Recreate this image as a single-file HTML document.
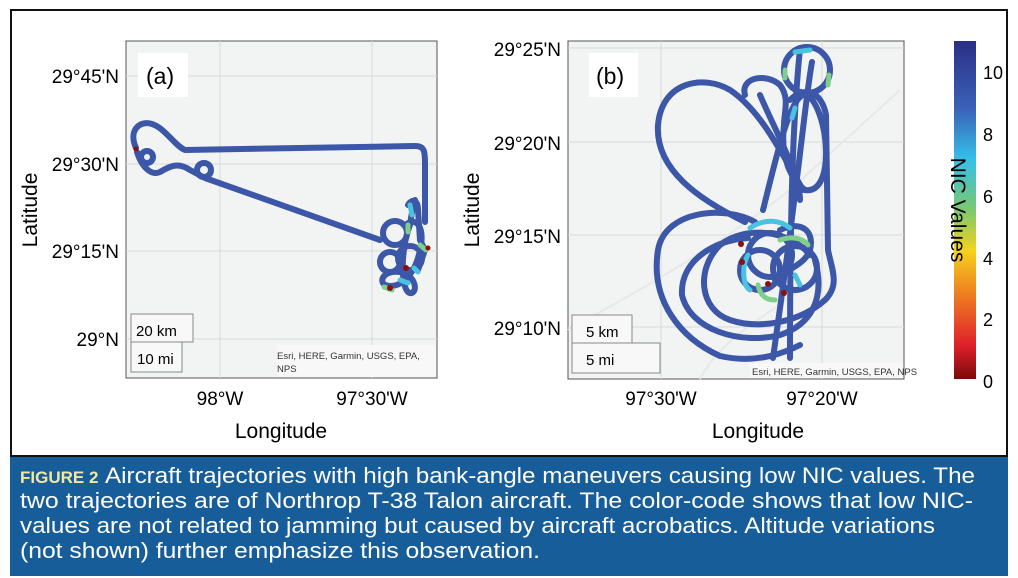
<!DOCTYPE html>
<html><head><meta charset="utf-8"><style>
body{margin:0;width:1018px;height:578px;background:#fff;overflow:hidden;font-family:"Liberation Sans",sans-serif}
</style></head><body>
<svg width="1018" height="578" viewBox="0 0 1018 578" style="position:absolute;left:0;top:0">
<defs>
<linearGradient id="cb" x1="0" y1="1" x2="0" y2="0">
<stop offset="0" stop-color="#7a0a0a"/><stop offset="0.1" stop-color="#e0202a"/><stop offset="0.27" stop-color="#f08a20"/><stop offset="0.38" stop-color="#f5d21e"/><stop offset="0.5" stop-color="#7cc870"/><stop offset="0.65" stop-color="#35c0e8"/><stop offset="0.8" stop-color="#3a62b8"/><stop offset="1" stop-color="#2a2f85"/>
</linearGradient>
</defs>
<rect x="11" y="10" width="996" height="446" fill="#fff" stroke="#111" stroke-width="2"/>
<!-- panel a -->
<rect x="126" y="41" width="311" height="337" fill="#f2f3f3" stroke="#555" stroke-width="1"/>
<g stroke="#d8d8d8" stroke-width="1">
<line x1="220" y1="41" x2="220" y2="378"/><line x1="372" y1="41" x2="372" y2="378"/>
<line x1="126" y1="76" x2="437" y2="76"/><line x1="126" y1="164" x2="437" y2="164"/><line x1="126" y1="251" x2="437" y2="251"/><line x1="126" y1="339" x2="437" y2="339"/>
</g>
<rect x="138" y="53" width="50" height="44" fill="#fff"/>
<text x="146" y="84" font-size="23">(a)</text>
<g fill="none" stroke="#3c56a8" stroke-width="6" stroke-linecap="round" stroke-linejoin="round">
<path d="M136,148 C128,130 140,120 152,124 C165,128 175,146 185,150 L415,146 C425,146 425,152 425,165 L425,222"/>
<path d="M137,152 C142,168 152,176 160,172 C170,166 178,162 190,170 L205,178 L380,240"/>
<circle cx="147" cy="157" r="6"/><circle cx="204" cy="170" r="7"/>
<circle cx="395" cy="233" r="12"/><circle cx="410" cy="258" r="12"/><circle cx="390" cy="262" r="10"/>
<path d="M405,225 C418,215 425,230 420,250 C415,275 400,290 385,285 C378,280 385,270 400,272 C415,275 418,290 412,293 C400,296 400,250 410,225 C412,210 415,200 415,200"/>
<path d="M408,205 C412,198 418,200 418,210 L420,240 L425,250 L418,270"/>
</g>
<g fill="none" stroke-width="5" stroke-linecap="round">
<path d="M410,205 L412,215" stroke="#49c3e0"/><path d="M408,225 L408,232" stroke="#7fcf8a"/><path d="M420,245 L426,250" stroke="#7fcf8a"/>
<path d="M384,287 L392,290" stroke="#7fcf8a"/><path d="M400,280 L408,283" stroke="#49c3e0"/><path d="M414,268 L418,272" stroke="#49c3e0"/>
</g>
<g fill="#8b1010"><circle cx="136" cy="149" r="2.5"/><circle cx="390" cy="288" r="3"/><circle cx="406" cy="268" r="3"/><circle cx="428" cy="248" r="2.5"/></g>
<rect x="277" y="345" width="159" height="32" fill="#f8f8f8"/>
<text x="277" y="359" font-size="9.5" fill="#333">Esri, HERE, Garmin, USGS, EPA,</text>
<text x="277" y="372" font-size="9.5" fill="#333">NPS</text>
<g fill="#f8f8f8" stroke="#888" stroke-width="1"><rect x="131" y="314" width="62" height="28"/><rect x="131" y="342" width="51" height="30"/></g>
<text x="136" y="336" font-size="15">20 km</text><text x="137" y="364" font-size="15">10 mi</text>
<g font-size="19" text-anchor="end"><text x="119" y="83">29°45'N</text><text x="119" y="171">29°30'N</text><text x="119" y="258">29°15'N</text><text x="119" y="346">29°N</text></g>
<g font-size="19" text-anchor="middle"><text x="220" y="405">98°W</text><text x="372" y="405">97°30'W</text><text x="281" y="438" font-size="21">Longitude</text></g>
<text transform="translate(37,210) rotate(-90)" font-size="21" text-anchor="middle">Latitude</text>
<!-- panel b -->
<rect x="568" y="41" width="336" height="338" fill="#f2f3f3" stroke="#555" stroke-width="1"/>
<g stroke="#d8d8d8" stroke-width="1">
<line x1="661" y1="41" x2="661" y2="379"/><line x1="822" y1="41" x2="822" y2="379"/>
<line x1="568" y1="48" x2="904" y2="48"/><line x1="568" y1="142" x2="904" y2="142"/><line x1="568" y1="235" x2="904" y2="235"/><line x1="568" y1="327" x2="904" y2="327"/>
</g>
<g fill="none" stroke="#e6e8ea" stroke-width="2"><path d="M568,330 C620,300 700,260 790,190 L900,90"/><path d="M700,379 C720,340 760,320 800,290"/></g>
<rect x="589" y="53" width="49" height="44" fill="#fff"/>
<text x="596" y="84" font-size="23">(b)</text>
<g fill="none" stroke="#3c56a8" stroke-width="6" stroke-linecap="round" stroke-linejoin="round">
<circle cx="807" cy="70" r="23"/>
<path d="M745,222 C700,200 655,170 658,125 C662,80 705,75 730,90 C760,110 780,150 803,190"/>
<path d="M745,95 C740,78 765,72 780,85 C790,98 784,112 784,125 C780,160 792,180 805,190 C835,195 830,115 808,95 C792,88 778,150 763,210"/>
<path d="M790,100 C805,85 822,92 826,115 L828,250 C832,270 840,285 825,300 C800,322 760,330 730,320 C700,310 695,270 720,245 C745,225 790,230 810,255"/>
<path d="M800,48 C795,100 790,170 790,358"/>
<path d="M812,62 C805,100 800,170 773,358"/>
<path d="M755,222 C725,205 665,210 658,250 C650,300 680,338 720,356 C760,365 790,350 800,345"/>
<path d="M748,238 C715,240 680,260 682,295 C690,330 740,345 780,335 C810,325 826,300 815,260"/>
<circle cx="770" cy="255" r="22"/><circle cx="795" cy="268" r="22"/><circle cx="760" cy="270" r="20"/>
<path d="M780,230 C800,220 815,230 810,250 C805,265 785,270 775,280"/>
<path d="M760,95 C775,130 800,175 800,200"/>
</g>
<g fill="none" stroke-width="5" stroke-linecap="round">
<path d="M795,52 L810,50" stroke="#49c3e0"/><path d="M829,75 L828,85" stroke="#7fcf8a"/><path d="M785,70 L785,78" stroke="#7fcf8a"/>
<path d="M792,118 L795,108" stroke="#49c3e0"/><path d="M750,228 C765,218 780,220 790,228" stroke="#49c3e0"/>
<path d="M748,255 C742,265 742,285 750,290" stroke="#49c3e0"/><path d="M758,285 C760,295 765,300 775,300" stroke="#7fcf8a"/>
<path d="M780,240 C795,235 805,240 808,245" stroke="#7fcf8a"/><path d="M795,275 L800,285" stroke="#49c3e0"/>
</g>
<g fill="#8b1010"><circle cx="741" cy="244" r="3"/><circle cx="742" cy="262" r="3"/><circle cx="768" cy="284" r="3"/><circle cx="784" cy="293" r="3"/></g>
<rect x="750" y="363" width="153" height="15" fill="#f8f8f8"/>
<text x="752" y="375" font-size="9.5" fill="#333">Esri, HERE, Garmin, USGS, EPA, NPS</text>
<g fill="#f8f8f8" stroke="#888" stroke-width="1"><rect x="572" y="315" width="60" height="28"/><rect x="572" y="343" width="88" height="30"/></g>
<text x="586" y="337" font-size="15">5 km</text><text x="586" y="365" font-size="15">5 mi</text>
<g font-size="19" text-anchor="end"><text x="561" y="56">29°25'N</text><text x="561" y="150">29°20'N</text><text x="561" y="243">29°15'N</text><text x="561" y="335">29°10'N</text></g>
<g font-size="19" text-anchor="middle"><text x="661" y="405">97°30'W</text><text x="822" y="405">97°20'W</text><text x="758" y="438" font-size="21">Longitude</text></g>
<text transform="translate(479,210) rotate(-90)" font-size="21" text-anchor="middle">Latitude</text>
<rect x="954" y="41" width="22" height="338" fill="url(#cb)"/>
<g font-size="18"><text x="983" y="79">10</text><text x="983" y="141">8</text><text x="983" y="203">6</text><text x="983" y="265">4</text><text x="983" y="326">2</text><text x="983" y="388">0</text></g>
<text transform="translate(951,210) rotate(90)" font-size="21" text-anchor="middle">NIC Values</text>
<!-- caption -->
<rect x="10" y="457" width="998" height="119" fill="#175d99"/>
<g font-size="22" fill="#fff">
<text x="20" y="483"><tspan fill="#f2e8a0" font-size="17" font-weight="bold">FIGURE 2</tspan></text>
<text x="105" y="483" textLength="870" lengthAdjust="spacingAndGlyphs">Aircraft trajectories with high bank-angle maneuvers causing low NIC values. The</text>
<text x="20" y="508" textLength="953" lengthAdjust="spacingAndGlyphs">two trajectories are of Northrop T-38 Talon aircraft. The color-code shows that low NIC-</text>
<text x="20" y="533" textLength="915" lengthAdjust="spacingAndGlyphs">values are not related to jamming but caused by aircraft acrobatics. Altitude variations</text>
<text x="20" y="558" textLength="520" lengthAdjust="spacingAndGlyphs">(not shown) further emphasize this observation.</text>
</g>
</svg>
</body></html>
